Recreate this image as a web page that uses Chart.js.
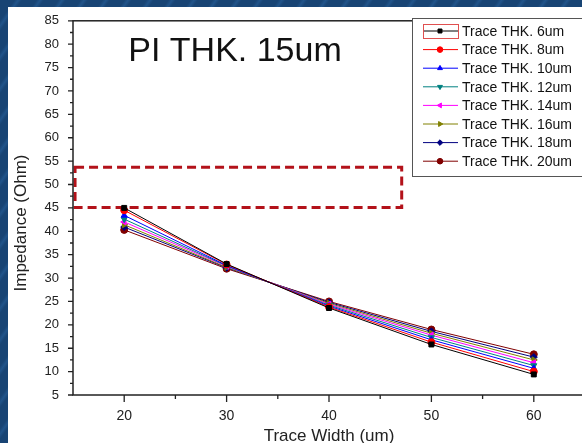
<!DOCTYPE html>
<html>
<head>
<meta charset="utf-8">
<script src="https://cdn.jsdelivr.net/npm/chart.js@4.4.1/dist/chart.umd.min.js"></script>
<style>
  html, body { margin: 0; padding: 0; width: 582px; height: 443px; overflow: hidden; }
  body { background: #1a4878 repeating-linear-gradient(125deg, #184474 0px, #184474 12px, #21548a 15px, #184474 18px); }
  #wrap { position: absolute; left: 8px; top: 7px; width: 592px; height: 436px; background: #fff; }
</style>
</head>
<body>
<div id="wrap"><canvas id="impedanceChart" width="592" height="436"></canvas></div>
<script>
// data
const traceWidths = [20, 30, 40, 50, 60];
const xTickValues = [20, 30, 40, 50, 60];
const xMinorTicks = [25, 35, 45, 55];
const yTickValues = [5, 10, 15, 20, 25, 30, 35, 40, 45, 50, 55, 60, 65, 70, 75, 80, 85];
const yMinorTicks = [7.5, 12.5, 17.5, 22.5, 27.5, 32.5, 37.5, 42.5, 47.5, 52.5, 57.5, 62.5, 67.5, 72.5, 77.5, 82.5];

const seriesNames = ['Trace THK. 6um', 'Trace THK. 8um', 'Trace THK. 10um', 'Trace THK. 12um',
  'Trace THK. 14um', 'Trace THK. 16um', 'Trace THK. 18um', 'Trace THK. 20um'];
const thk6  = [45.0, 33.0, 23.6, 15.8, 9.4];
const thk8  = [44.5, 32.9, 23.8, 16.3, 10.0];
const thk10 = [43.4, 32.7, 24.0, 16.8, 10.7];
const thk12 = [42.6, 32.6, 24.2, 17.3, 11.3];
const thk14 = [42.0, 32.5, 24.4, 17.8, 11.9];
const thk16 = [41.4, 32.3, 24.6, 18.2, 12.5];
const thk18 = [40.9, 32.2, 24.8, 18.6, 13.1];
const thk20 = [40.3, 32.0, 25.0, 19.0, 13.7];

// highlighted band (dashed box)
const boxX = [15.2, 47.1];
const boxY = [45.1, 53.7];

const allSeries = [thk6, thk8, thk10, thk12, thk14, thk16, thk18, thk20];
const colors = ['#000000', '#ff0000', '#0000ff', '#008080', '#ff00ff', '#808000', '#000080', '#800000'];
const markers = ['rect', 'circle', 'triangle', 'triangle', 'triangle', 'triangle', 'rectRot', 'circle'];
const rotations = [0, 0, 0, 180, -90, 90, 0, 0];

const FONT = "'Liberation Sans', Arial, sans-serif";

const datasets = allSeries.map((vals, i) => ({
  label: seriesNames[i],
  data: traceWidths.map((x, j) => ({ x: x, y: vals[j] })),
  borderColor: colors[i],
  backgroundColor: colors[i],
  borderWidth: 1,
  pointStyle: markers[i],
  rotation: rotations[i],
  pointRadius: 3.5,
  pointBorderWidth: 1,
  tension: 0
}));

const extras = {
  id: 'extras',
  beforeDatasetsDraw(chart) {
    const ctx = chart.ctx, xs = chart.scales.x, ys = chart.scales.y;
    // dashed red box
    ctx.save();
    ctx.strokeStyle = '#b3121a';
    ctx.lineWidth = 3;
    ctx.setLineDash([9, 5]);
    const x1 = xs.getPixelForValue(boxX[0]), x2 = xs.getPixelForValue(boxX[1]);
    const y1 = ys.getPixelForValue(boxY[1]), y2 = ys.getPixelForValue(boxY[0]);
    ctx.strokeRect(x1, y1, x2 - x1, y2 - y1);
    ctx.restore();
  },
  afterDraw(chart) {
    const ctx = chart.ctx, xs = chart.scales.x, ys = chart.scales.y, a = chart.chartArea;
    ctx.save();
    // frame
    ctx.strokeStyle = '#222';
    ctx.lineWidth = 1.5;
    ctx.strokeRect(a.left, a.top, a.right - a.left, a.bottom - a.top);
    // ticks
    ctx.lineWidth = 1.3;
    ctx.beginPath();
    xTickValues.forEach(v => { const p = xs.getPixelForValue(v); ctx.moveTo(p, a.bottom); ctx.lineTo(p, a.bottom + 7); });
    xMinorTicks.forEach(v => { const p = xs.getPixelForValue(v); ctx.moveTo(p, a.bottom); ctx.lineTo(p, a.bottom + 4); });
    yTickValues.forEach(v => { const p = ys.getPixelForValue(v); ctx.moveTo(a.left, p); ctx.lineTo(a.left - 5, p); });
    yMinorTicks.forEach(v => { const p = ys.getPixelForValue(v); ctx.moveTo(a.left, p); ctx.lineTo(a.left - 3, p); });
    ctx.stroke();

    // titles
    ctx.fillStyle = '#111';
    ctx.textAlign = 'center';
    ctx.textBaseline = 'middle';
    ctx.font = '34px ' + FONT;
    ctx.fillText('PI THK. 15um', 227, 45);
    ctx.fillStyle = '#222';
    ctx.font = '17px ' + FONT;
    ctx.fillText('Trace Width (um)', (a.left + a.right) / 2, 429);
    ctx.save();
    ctx.translate(13, 216);
    ctx.rotate(-Math.PI / 2);
    ctx.fillText('Impedance (Ohm)', 0, 0);
    ctx.restore();

    // legend
    const lx = 404, ly = 11;
    ctx.fillStyle = '#fff';
    ctx.fillRect(lx, ly, 200, 158);
    ctx.strokeStyle = '#555';
    ctx.lineWidth = 1;
    ctx.strokeRect(lx + 0.5, ly + 0.5, 200, 158);
    ctx.font = '14px ' + FONT;
    ctx.textAlign = 'left';
    chart.data.datasets.forEach((ds, i) => {
      const y = 24 + i * 18.6;
      ctx.strokeStyle = ds.borderColor;
      ctx.lineWidth = 1;
      ctx.beginPath();
      ctx.moveTo(415, y); ctx.lineTo(450, y);
      ctx.stroke();
      ctx.fillStyle = ds.backgroundColor;
      Chart.helpers.drawPoint(ctx, { pointStyle: ds.pointStyle, rotation: ds.rotation, radius: 2.8, borderWidth: 1 }, 432, y);
      ctx.fillStyle = '#111';
      ctx.fillText(ds.label, 454, y + 1);
    });
    // selection box around first sample
    ctx.strokeStyle = '#e05050';
    ctx.lineWidth = 1;
    ctx.strokeRect(415.5, 17.5, 35, 14);
    ctx.restore();
  }
};

new Chart(document.getElementById('impedanceChart'), {
  type: 'line',
  data: { datasets: datasets },
  options: {
    responsive: false,
    animation: false,
    layout: { padding: { top: 12, right: 15, left: 0, bottom: 0 } },
    plugins: { legend: { display: false }, tooltip: { enabled: false } },
    scales: {
      x: {
        type: 'linear',
        min: 15,
        max: 65,
        afterBuildTicks: s => { s.ticks = xTickValues.map(v => ({ value: v })); },
        afterFit: s => { s.height = 48; },
        grid: { display: false },
        border: { display: false },
        ticks: { padding: 5, color: '#222', font: { family: FONT, size: 14 } }
      },
      y: {
        min: 5,
        max: 85,
        afterBuildTicks: s => { s.ticks = yTickValues.map(v => ({ value: v })); },
        afterFit: s => { s.width = 65; },
        grid: { display: false },
        border: { display: false },
        ticks: { padding: 6, color: '#222', font: { family: FONT, size: 13 } }
      }
    }
  },
  plugins: [extras]
});
</script>
</body>
</html>
